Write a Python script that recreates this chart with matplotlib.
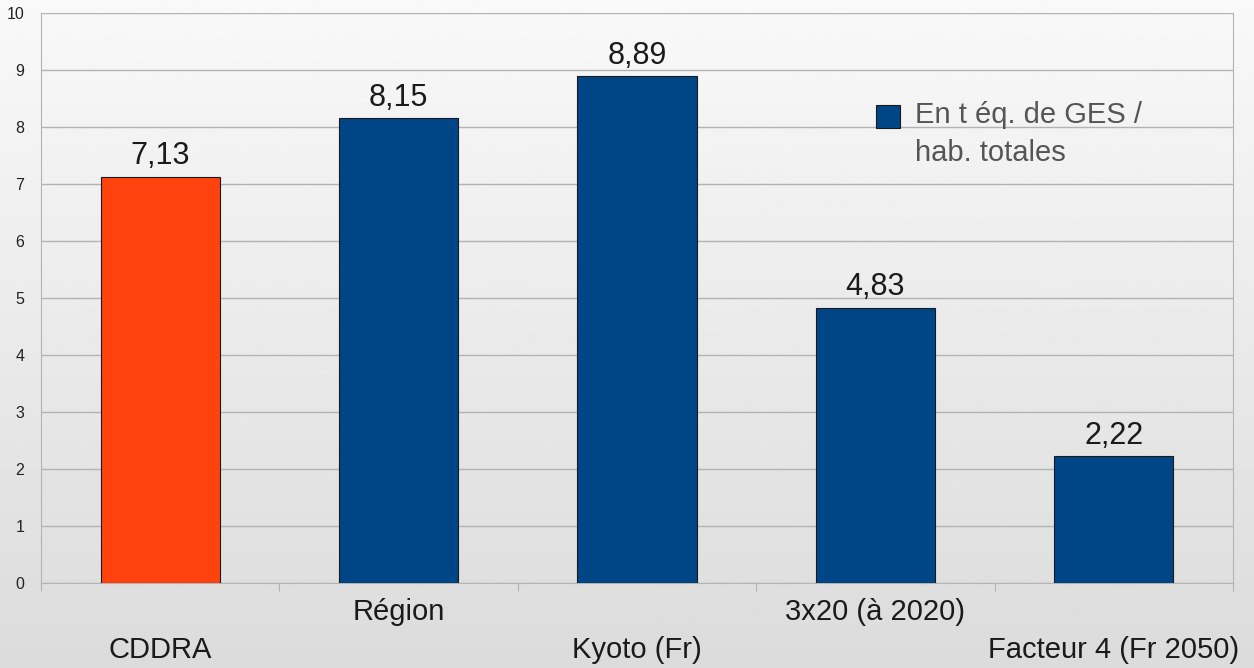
import numpy as np
import matplotlib.pyplot as plt
from matplotlib.patches import Rectangle

# Data
categories = ['CDDRA', 'Région', 'Kyoto (Fr)', '3x20 (à 2020)', 'Facteur 4 (Fr 2050)']
values = [7.13, 8.15, 8.89, 4.83, 2.22]
value_labels = ['7,13', '8,15', '8,89', '4,83', '2,22']
bar_colors = ['#ff420e', '#004586', '#004586', '#004586', '#004586']
legend_label = 'En t éq. de GES /\nhab. totales'
y_ticks = list(range(0, 11))

plt.rcParams['font.family'] = ['Liberation Sans', 'DejaVu Sans']

W, H = 1254, 668
fig = plt.figure(figsize=(W / 100, H / 100), dpi=100)

# soft vertical gradient as background
bg = fig.add_axes([0, 0, 1, 1], zorder=0)
grad = np.linspace(0.975, 0.86, 256).reshape(-1, 1)
bg.imshow(grad, aspect='auto', cmap='gray', vmin=0, vmax=1, extent=[0, 1, 0, 1])
bg.axis('off')

ax = fig.add_axes([41 / W, 85 / H, 1192 / W, 570 / H], zorder=1)
ax.set_facecolor('none')

x = np.arange(len(categories))
ax.bar(x, values, width=0.5, color=bar_colors, edgecolor='#1a1a1a',
       linewidth=0.8, zorder=3)

for xi, v, lab in zip(x, values, value_labels):
    ax.annotate(lab, (xi, v), xytext=(0, 4), textcoords='offset points',
                ha='center', va='bottom', fontsize=22, color='#1a1a1a')

ax.set_xlim(-0.5, len(categories) - 0.5)
ax.set_ylim(0, 10)
ax.set_yticks(y_ticks)
ax.set_yticklabels([str(t) for t in y_ticks], fontsize=11.5, color='#222222')
ax.yaxis.grid(True, color='#b3b3b3', linewidth=1, zorder=0)
ax.tick_params(axis='y', length=0, pad=12)

# category boundaries as ticks, labels staggered in two rows
ax.set_xticks(np.arange(-0.5, len(categories), 1.0))
ax.set_xticklabels([])
ax.tick_params(axis='x', length=6, color='#b3b3b3', direction='out')
for xi, cat in zip(x, categories):
    dy = -29 if xi % 2 else -67
    ax.annotate(cat, (xi, 0), xytext=(0, dy), textcoords='offset pixels',
                ha='center', va='center', fontsize=21, color='#1a1a1a',
                annotation_clip=False)

for side in ['left', 'bottom', 'right', 'top']:
    ax.spines[side].set_color('#b3b3b3')
ax.spines['top'].set_visible(False)

# legend: square next to the first line of the label
fig.patches.append(Rectangle((876 / W, 1 - 128 / H), 24 / W, 23 / H,
                             transform=fig.transFigure, facecolor='#004586',
                             edgecolor='#1a1a1a', linewidth=0.8, zorder=5))
fig.text(915 / W, 1 - 101 / H, legend_label, ha='left', va='top',
         fontsize=21, color='#555555', linespacing=1.45, zorder=5)

plt.savefig('out.png', dpi=100)
